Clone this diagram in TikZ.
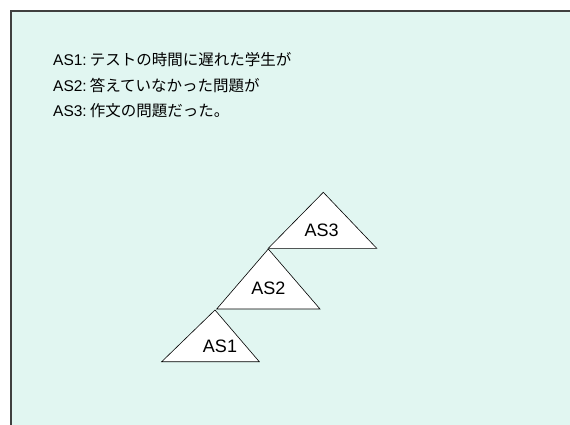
\documentclass[tikz,border=0pt]{standalone}
\usepackage{fontspec}
\setmainfont{Liberation Sans}
\newfontfamily\jp{Noto Sans CJK JP}
\definecolor{panelbg}{HTML}{E1F6F1}
\definecolor{panelline}{HTML}{404040}
\begin{document}
\begin{tikzpicture}[x=1pt,y=-1pt,
  tri/.style={draw=black,fill=white,line width=0.6pt,line join=miter},
  lab/.style={font=\fontsize{18}{20}\selectfont,inner sep=0pt},
  txt/.style={font=\fontsize{15.5}{18}\selectfont,anchor=west,inner sep=0pt}]
\useasboundingbox (0,0) rectangle (570,424);
\clip (0,0) rectangle (570,424);
\draw[fill=panelbg,draw=panelline,line width=1.2pt] (11,11) rectangle (580,434);
\node[txt] (l1) at (53,60) {AS1:\hspace{0.2em}{\jp テストの時間に遅れた学生が}};
\node[txt] (l2) at (53,86) {AS2:\hspace{0.2em}{\jp 答えていなかった問題が}};
\node[txt] (l3) at (53,111) {AS3:\hspace{0.2em}{\jp 作文の問題だった。}};
\draw[tri] (323.3,192.3) -- (376.7,248.3) -- (268.3,248.3) -- cycle;
\draw[tri] (268.3,249) -- (320,309) -- (216.7,309) -- cycle;
\draw[tri] (215,310) -- (259.3,361.7) -- (161.7,361.7) -- cycle;
\node[lab] (as3) at (321.7,230) {AS3};
\node[lab] (as2) at (268.3,288) {AS2};
\node[lab] (as1) at (220,346.7) {AS1};
\end{tikzpicture}
\end{document}
